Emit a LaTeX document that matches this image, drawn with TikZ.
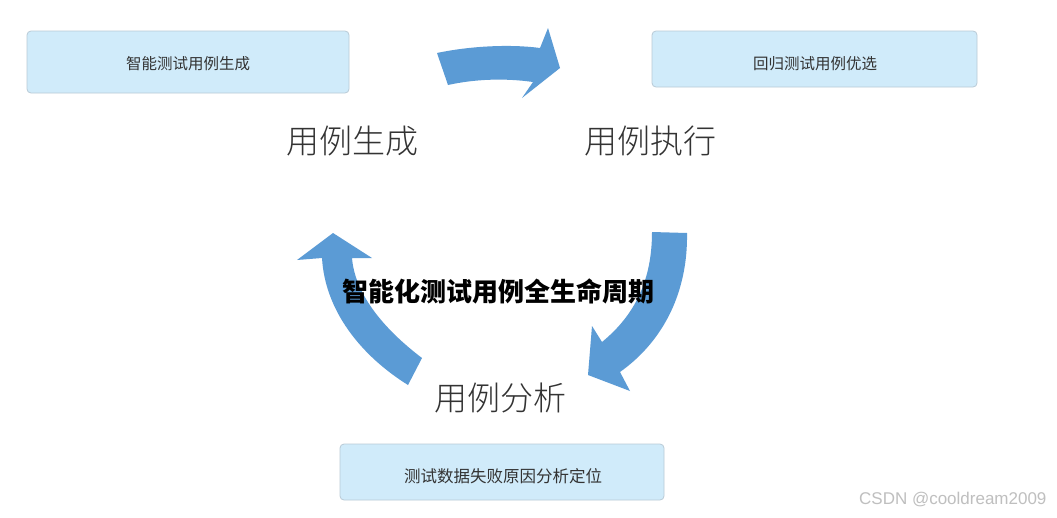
\documentclass[tikz,border=0pt]{standalone}
\usepackage{fontspec}
\setmainfont{Liberation Sans}
\newfontfamily\cjk{Noto Sans CJK SC}
\IfFontExistsTF{Noto Sans CJK SC Light}{\newfontfamily\cjklight{Noto Sans CJK SC Light}}{\newfontfamily\cjklight{Noto Sans CJK SC}}
\definecolor{arrowblue}{HTML}{5B9BD5}
\definecolor{boxfill}{HTML}{D0EBFA}
\definecolor{boxline}{HTML}{B9CAD6}
\definecolor{txt}{HTML}{333333}
\begin{document}
\begin{tikzpicture}[x=1pt,y=-1pt,
  infobox/.style={draw=boxline,fill=boxfill,rounded corners=4pt,line width=0.8pt},
  boxtext/.style={font=\cjk\fontsize{15.5}{18}\selectfont,text=txt},
  stage/.style={font=\cjklight\fontsize{33}{38}\selectfont,text=txt},
  cyclearrow/.style={fill=arrowblue,draw=none}]
\useasboundingbox (0,0) rectangle (1057,517);
\fill[white] (0,0) rectangle (1057,517);
% boxes
\draw[infobox] (27,31) rectangle (349,93);
\node[boxtext] (b1) at (188,64) {智能测试用例生成};
\draw[infobox] (652,31) rectangle (977,87);
\node[boxtext] (b2) at (815,64) {回归测试用例优选};
\draw[infobox] (340,444) rectangle (664,500);
\node[boxtext,font=\cjk\fontsize{16.5}{19}\selectfont] (b3) at (503,476) {测试数据失败原因分析定位};
% stage labels
\node[stage] (s1) at (352,141) {用例生成};
\node[stage] (s2) at (650,141) {用例执行};
\node[stage] (s3) at (500,398) {用例分析};
% arrows
\fill[cyclearrow] (437,53) .. controls (470,46) and (510,44) .. (540,48) -- (548,28) -- (560,68) -- (522,98) -- (533,82) .. controls (505,78) and (475,79) .. (448,85) -- cycle;
\fill[cyclearrow] (652,232) -- (687,233) .. controls (688,290) and (665,340) .. (620,372) -- (630,391) -- (588,375) -- (592,326) -- (602,342) .. controls (635,315) and (652,280) .. (652,232) -- cycle;
\fill[cyclearrow] (408,385) -- (422,358) .. controls (385,330) and (355,295) .. (352,258) -- (372,258) -- (333,233) -- (297,260) -- (322,258) .. controls (325,310) and (360,355) .. (408,385) -- cycle;
% title on top
\node[font=\cjk\bfseries\fontsize{26}{30}\selectfont,text=black] (title) at (498,291) {智能化测试用例全生命周期};
% watermark
\node[font=\fontsize{17}{20}\selectfont,text=black!25,anchor=east] (wm) at (1050,500) {CSDN @cooldream2009};
\end{tikzpicture}
\end{document}
